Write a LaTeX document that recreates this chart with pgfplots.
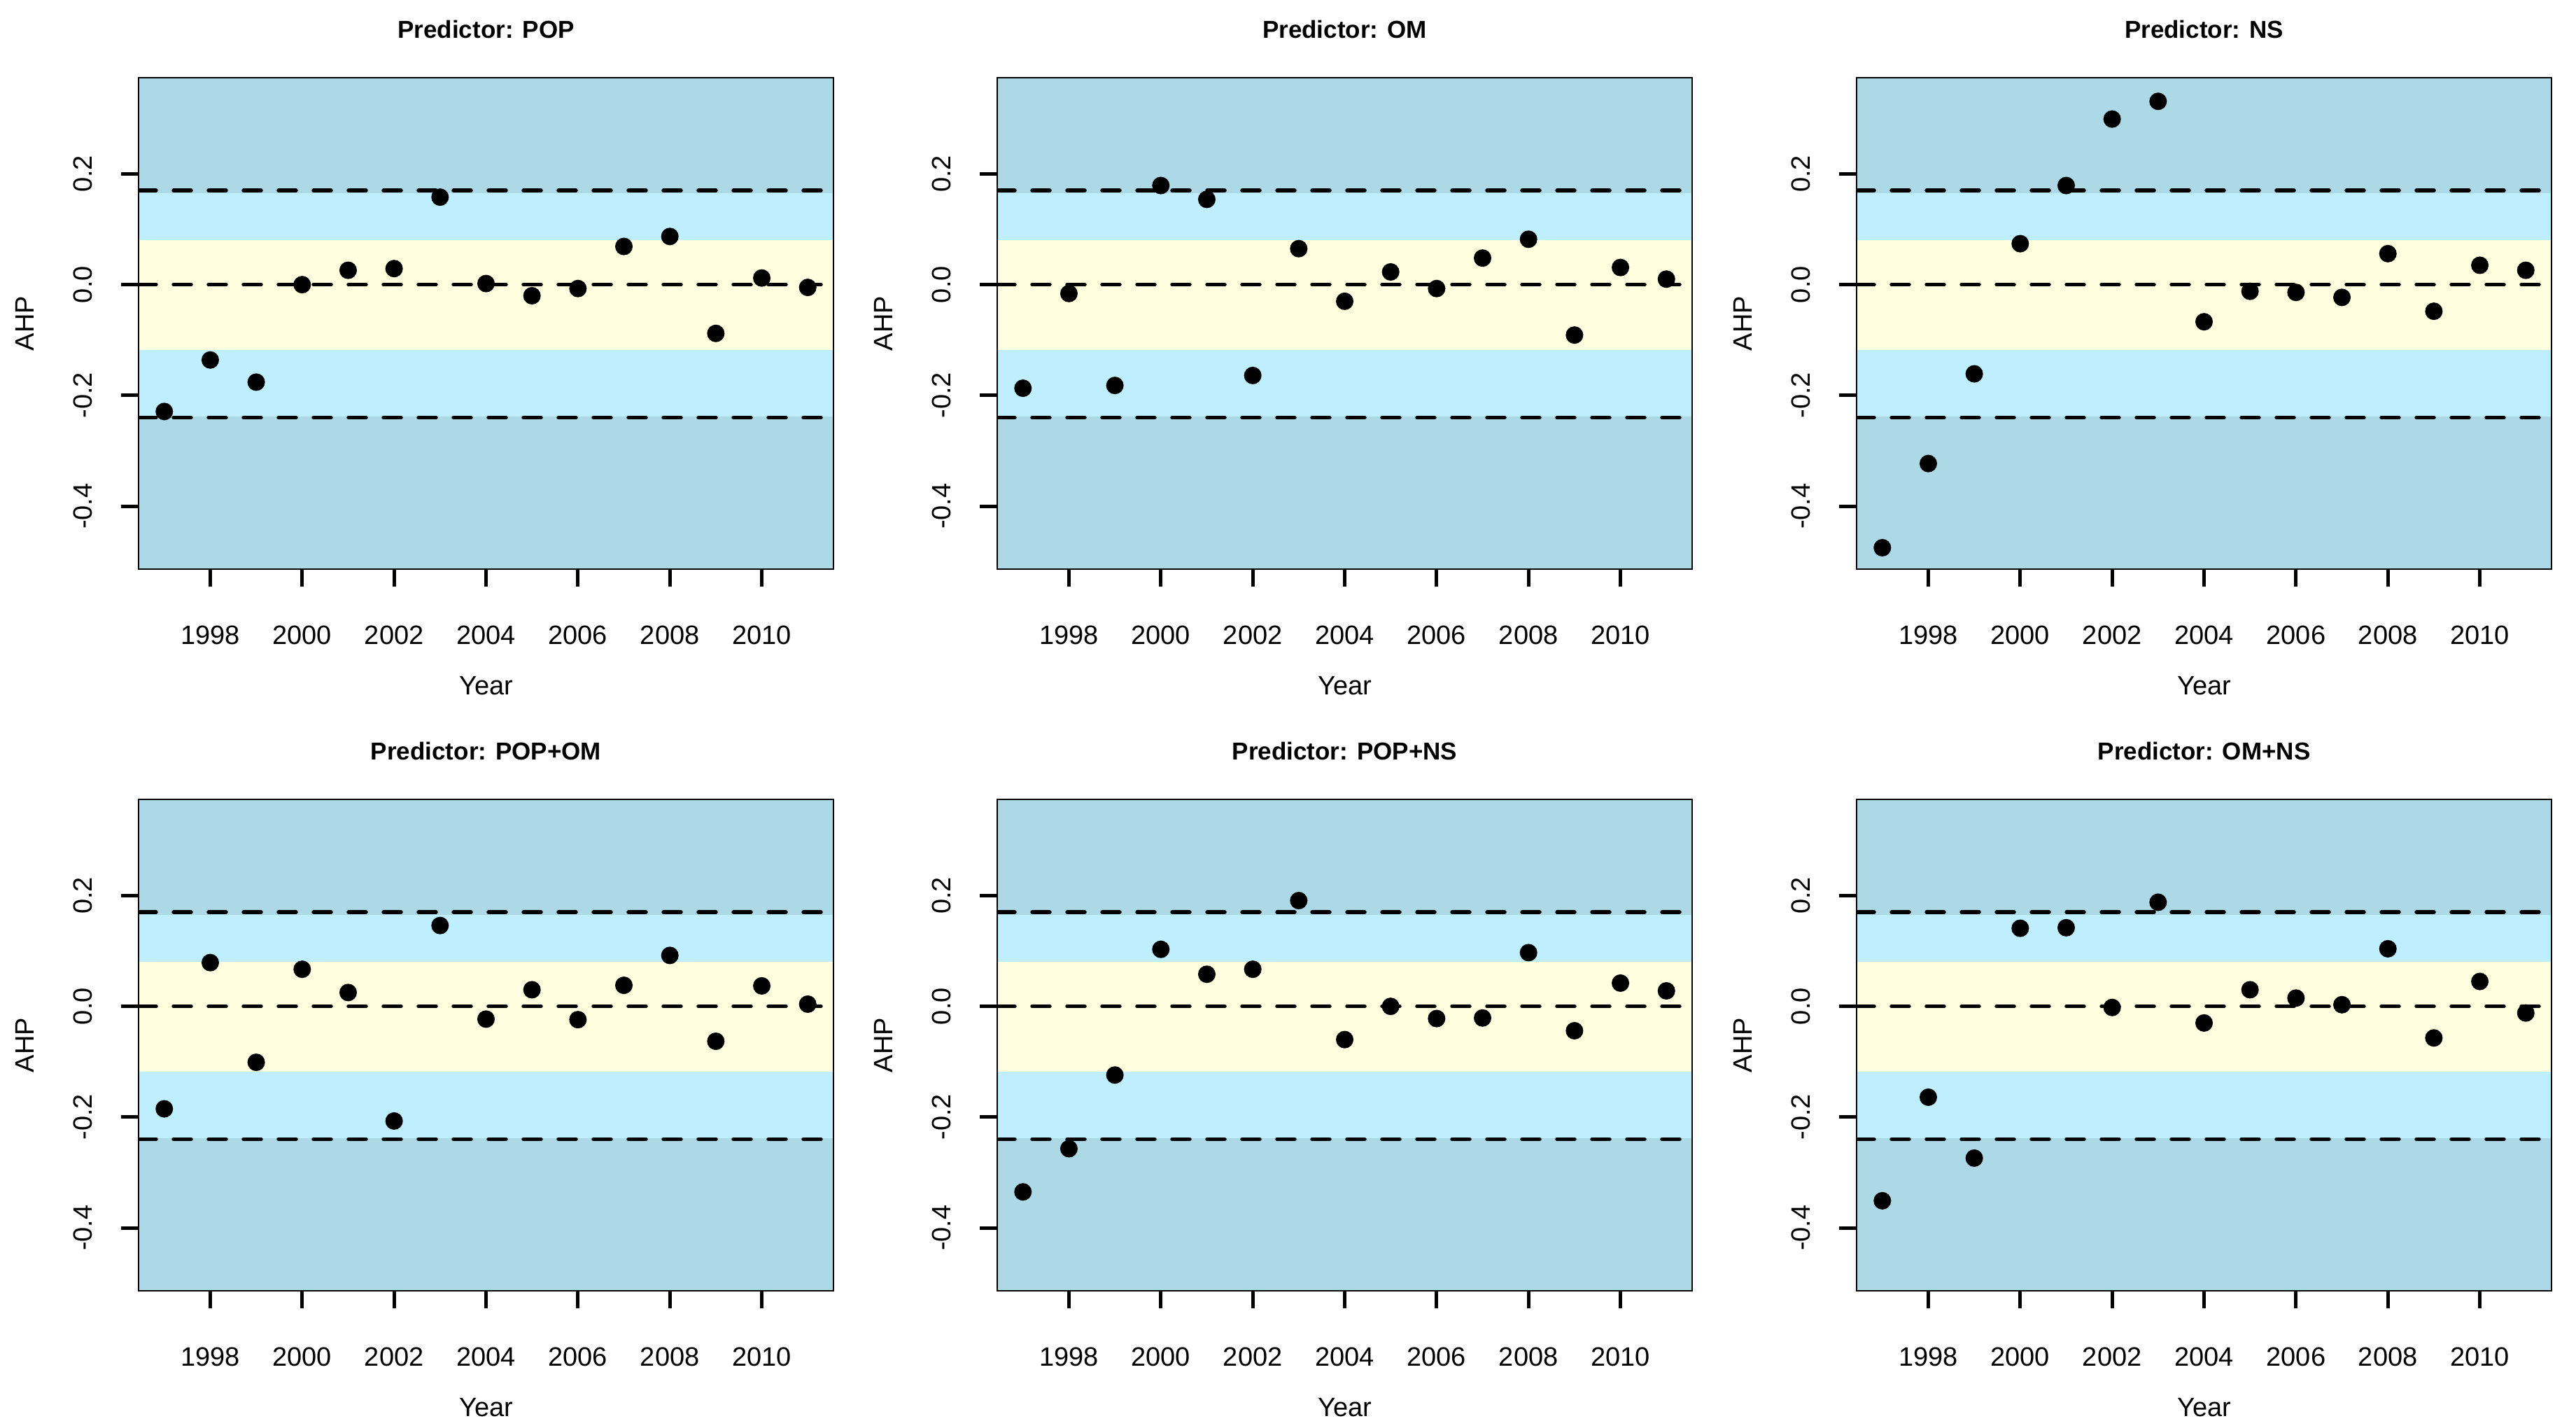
\documentclass[border=0pt]{standalone}
\usepackage{pgfplots}
\usepackage{pgfplotstable}
\usepackage{fontspec}
\setmainfont{Liberation Sans}
\pgfplotsset{compat=1.18}

\definecolor{bandout}{HTML}{ADD8E6}
\definecolor{bandmid}{HTML}{BFEFFF}
\definecolor{bandin}{HTML}{FFFFE0}

% AHP by year for each predictor set
\pgfplotstableread{
year  pop    om     ns     popom  popns  omns
1997 -0.229 -0.187 -0.475 -0.185 -0.335 -0.351
1998 -0.136 -0.016 -0.323  0.079 -0.257 -0.164
1999 -0.176 -0.182 -0.161 -0.101 -0.124 -0.274
2000  0.000  0.179  0.074  0.067  0.103  0.141
2001  0.026  0.154  0.179  0.025  0.058  0.142
2002  0.029 -0.164  0.299 -0.207  0.067 -0.002
2003  0.158  0.065  0.331  0.146  0.191  0.188
2004  0.002 -0.030 -0.067 -0.023 -0.060 -0.030
2005 -0.020  0.023 -0.012  0.030  0.000  0.030
2006 -0.007 -0.007 -0.014 -0.024 -0.022  0.015
2007  0.069  0.048 -0.023  0.038 -0.021  0.003
2008  0.087  0.082  0.056  0.092  0.097  0.104
2009 -0.088 -0.091 -0.048 -0.063 -0.044 -0.057
2010  0.012  0.031  0.035  0.037  0.042  0.045
2011 -0.005  0.010  0.026  0.004  0.028 -0.012
}\ahp

\newcommand{\txt}{\fontsize{7.6}{9}\selectfont}

\pgfplotsset{
  ahppanel/.style={
    scale only axis, width=198.6pt, height=140.4pt,
    xmin=1996.44, xmax=2011.56, ymin=-0.5136, ymax=0.3737,
    xtick={1998,2000,2002,2004,2006,2008,2010},
    xticklabels={1998,2000,2002,2004,2006,2008,2010},
    ytick={-0.4,-0.2,0,0.2},
    yticklabels={-0.4,-0.2,0.0,0.2},
    xtick pos=left, ytick pos=left,
    tick align=outside, major tick length=5pt,
    every tick/.style={black, line width=1pt},
    axis line style={line width=0.55pt},
    axis background/.style={fill=bandout},
    axis on top,
    tick label style={font=\txt},
    xticklabel style={anchor=north, inner sep=0pt},
    yticklabel style={rotate=90, anchor=base, inner sep=0pt},
    xticklabel shift=11pt, yticklabel shift=8.4pt,
    xlabel={Year}, ylabel={AHP},
    label style={font=\txt},
    xlabel style={at={(0.5,-0.2372)}, anchor=center},
    ylabel style={at={(-0.16415,0.5)}, anchor=center},
    every axis title shift=0pt,
    title style={font=\bfseries\fontsize{7}{8.4}\selectfont, at={(0.5,1.0983)}, anchor=center},
  },
  refline/.style={black, line width=1.1pt, line cap=round, dash pattern=on 5pt off 5pt, forget plot},
  pts/.style={only marks, mark=*, mark size=2.3pt, black, mark options={fill=black, draw=black}},
}

% bands and reference lines, drawn first in every panel
\newcommand{\bands}{%
  \addplot[draw=none, fill=bandmid, forget plot] coordinates {(1996.44,-0.238) (2011.56,-0.238) (2011.56,0.165) (1996.44,0.165)} -- cycle;
  \addplot[draw=none, fill=bandin, forget plot] coordinates {(1996.44,-0.118) (2011.56,-0.118) (2011.56,0.08) (1996.44,0.08)} -- cycle;
  \addplot[refline] coordinates {(1996.44,0.17) (2011.56,0.17)};
  \addplot[refline] coordinates {(1996.44,0) (2011.56,0)};
  \addplot[refline] coordinates {(1996.44,-0.24) (2011.56,-0.24)};
}

\begin{document}
\begin{tikzpicture}
\path[use as bounding box] (0,0) rectangle (736.2pt,407.8pt);

\begin{axis}[ahppanel, at={(39.6pt,245.2pt)}, anchor=south west, title={Predictor: POP}]
  \bands
  \addplot[pts] table[x=year, y=pop] {\ahp};
\end{axis}

\begin{axis}[ahppanel, at={(285.0pt,245.2pt)}, anchor=south west, title={Predictor: OM}]
  \bands
  \addplot[pts] table[x=year, y=om] {\ahp};
\end{axis}

\begin{axis}[ahppanel, at={(530.6pt,245.2pt)}, anchor=south west, title={Predictor: NS}]
  \bands
  \addplot[pts] table[x=year, y=ns] {\ahp};
\end{axis}

\begin{axis}[ahppanel, at={(39.6pt,39pt)}, anchor=south west, title={Predictor: POP+OM}]
  \bands
  \addplot[pts] table[x=year, y=popom] {\ahp};
\end{axis}

\begin{axis}[ahppanel, at={(285.0pt,39pt)}, anchor=south west, title={Predictor: POP+NS}]
  \bands
  \addplot[pts] table[x=year, y=popns] {\ahp};
\end{axis}

\begin{axis}[ahppanel, at={(530.6pt,39pt)}, anchor=south west, title={Predictor: OM+NS}]
  \bands
  \addplot[pts] table[x=year, y=omns] {\ahp};
\end{axis}
\end{tikzpicture}
\end{document}
